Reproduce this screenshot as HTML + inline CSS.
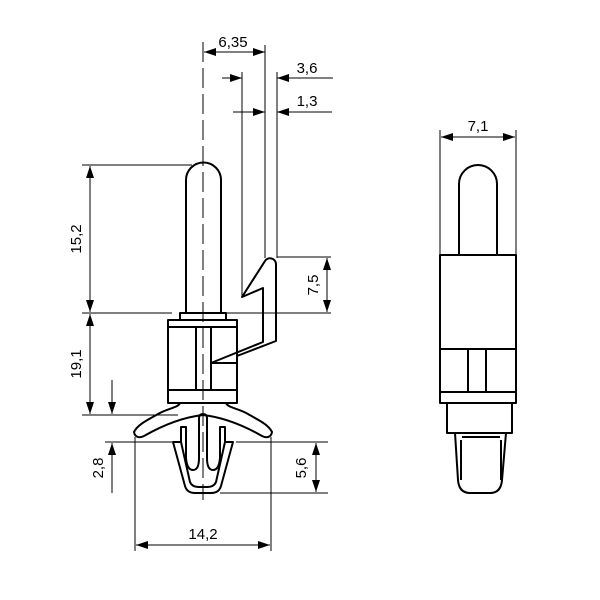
<!DOCTYPE html>
<html><head><meta charset="utf-8"><style>html,body{margin:0;padding:0;background:#fff}svg{display:block}text{font-family:"Liberation Sans",sans-serif;font-size:15px;fill:#000}</style></head>
<body>
<svg width="600" height="600" viewBox="0 0 600 600" xmlns="http://www.w3.org/2000/svg">
<defs>
<marker id="a" viewBox="0 0 12 8" refX="12" refY="4" markerWidth="12" markerHeight="8" orient="auto-start-reverse" markerUnits="userSpaceOnUse"><path d="M0,0 L12,4 L0,8 Z" fill="#000"/></marker>
</defs>
<g fill="none" stroke="#000" stroke-width="1">
<path d="M203,42 V500" stroke-dasharray="20,6"/>
<path d="M265,45 V258"/>
<path d="M204,52 H265" marker-start="url(#a)" marker-end="url(#a)"/>
<path d="M242,72 V296"/>
<path d="M277,72 V258"/>
<path d="M222,78 H242" marker-end="url(#a)"/>
<path d="M333,78 H277" marker-end="url(#a)"/>
<path d="M233,112 H265" marker-end="url(#a)"/>
<path d="M332,112 H277" marker-end="url(#a)"/>
<path d="M82,165 H192"/>
<path d="M82,313 H172"/>
<path d="M225,313 H331"/>
<path d="M90,166 V312" marker-start="url(#a)" marker-end="url(#a)"/>
<path d="M90,314 V414" marker-start="url(#a)" marker-end="url(#a)"/>
<path d="M82,415 H178"/>
<path d="M112,380 V414" marker-end="url(#a)"/>
<path d="M277,257 H331"/>
<path d="M327,258 V312" marker-start="url(#a)" marker-end="url(#a)"/>
<path d="M105,442 H172"/>
<path d="M112,493 V443" marker-end="url(#a)"/>
<path d="M236,442 H328"/>
<path d="M220,493 H328"/>
<path d="M316,443 V492" marker-start="url(#a)" marker-end="url(#a)"/>
<path d="M135,437 V551"/>
<path d="M271,437 V551"/>
<path d="M136,545 H270" marker-start="url(#a)" marker-end="url(#a)"/>
<path d="M440,130 V255"/>
<path d="M516,130 V255"/>
<path d="M441,137 H515" marker-start="url(#a)" marker-end="url(#a)"/>
</g>
<g fill="none" stroke="#000" stroke-width="2" stroke-linejoin="round">
<path d="M186,313 V180 A17,17 0 0 1 221,180 V313"/>
<path d="M180,320 V313 H226 V320"/>
<rect x="168" y="320" width="69" height="83"/>
<path d="M168,327 H237 M168,390 H237 M196,327 V390 M211,327 V390 M211,363 H237"/>
<path d="M211,363 L263,342 V288 L242,297 L265,261 A6,6 0 0 1 276,264 V341 L237,356"/>
<path d="M180,403 C178,408 168,408 158,414 C148,420 138,424 134,432 C135,438 140,438 144,436 C165,424 185,417 203,415 C221,417 241,424 262,436 C266,438 271,438 272,432 C268,424 258,420 248,414 C238,408 228,408 226,403"/>
<path d="M173,442 L185,486 Q187,493 195,493 H211 Q219,493 221,486 L233,442 H225 V427 H220 V458 Q219,470 213,470 Q207,470 207,458 V418 Q207,414 203,414 Q199,414 199,418 V458 Q199,470 193,470 Q187,470 186,458 V427 H181 V442 Z"/>
<path d="M181,442 L190,482 Q192,487 199,487 H207 Q214,487 216,482 L225,442"/>
<path d="M459,255 V184 A19,19 0 0 1 497,184 V255"/>
<rect x="440" y="255" width="76" height="148"/>
<path d="M440,349 H516 M440,392 H516 M468,349 V392 M486,349 V392"/>
<rect x="447" y="403" width="65" height="30"/>
<path d="M455,433 L458,480 Q459,493 470,493 H490 Q501,493 502,480 L506,433"/>
<path d="M462,437 H500"/>
<path d="M461,440 V480 M501,440 V480"/>
</g>
<g>
<text x="233" y="47" text-anchor="middle">6,35</text>
<text x="307" y="73" text-anchor="middle">3,6</text>
<text x="307" y="106" text-anchor="middle">1,3</text>
<text x="478" y="131" text-anchor="middle">7,1</text>
<text x="203" y="539" text-anchor="middle">14,2</text>
<text transform="translate(81,239) rotate(-90)" text-anchor="middle">15,2</text>
<text transform="translate(81,364) rotate(-90)" text-anchor="middle">19,1</text>
<text transform="translate(318,285) rotate(-90)" text-anchor="middle">7,5</text>
<text transform="translate(103,468) rotate(-90)" text-anchor="middle">2,8</text>
<text transform="translate(306,468) rotate(-90)" text-anchor="middle">5,6</text>
</g>
</svg>
</body></html>
